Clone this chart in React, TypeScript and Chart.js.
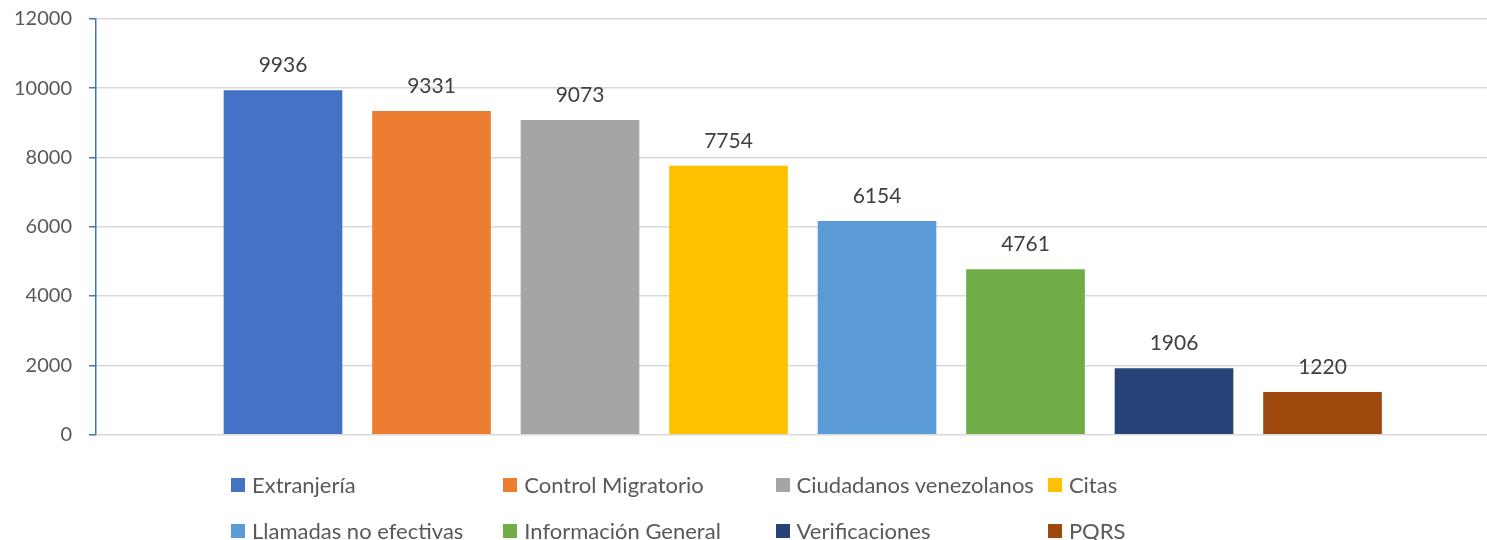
import React, { useEffect, useRef } from "react";
import { Chart, registerables } from "chart.js";

Chart.register(...registerables);

const categories = [
  "Extranjería",
  "Control Migratorio",
  "Ciudadanos venezolanos",
  "Citas",
  "Llamadas no efectivas",
  "Información General",
  "Verificaciones",
  "PQRS",
];
const values = [9936, 9331, 9073, 7754, 6154, 4761, 1906, 1220];
const colors = [
  "#4472C4",
  "#ED7D31",
  "#A5A5A5",
  "#FFC000",
  "#5B9BD5",
  "#70AD47",
  "#264478",
  "#9E480E",
];
const yTicks = [0, 2000, 4000, 6000, 8000, 10000, 12000];

const FONT = "Lato, 'Open Sans', sans-serif";

const labelPlugin = {
  id: "valueLabels",
  afterDatasetsDraw(chart: any) {
    const ctx = chart.ctx;
    const meta = chart.getDatasetMeta(0);
    ctx.save();
    ctx.font = `21px ${FONT}`;
    ctx.fillStyle = "#404040";
    ctx.textAlign = "center";
    ctx.textBaseline = "alphabetic";
    meta.data.forEach((bar: any, i: number) => {
      ctx.fillText(String(values[i]), bar.x, bar.y - 18.5);
    });
    ctx.restore();
  },
};

export default function App() {
  const ref = useRef<HTMLCanvasElement>(null);
  useEffect(() => {
    document.body.style.margin = "0";
    const chart = new Chart(ref.current as HTMLCanvasElement, {
      type: "bar",
      data: {
        datasets: [
          {
            data: values.map((v, i) => ({ x: i + 1, y: v })),
            backgroundColor: colors,
            borderWidth: 0,
            barThickness: 118,
          } as any,
        ],
      },
      options: {
        responsive: false,
        animation: false,
        devicePixelRatio: 1,
        layout: { padding: { top: 19, bottom: 105.5, left: 0, right: 0 } },
        plugins: { legend: { display: false }, tooltip: { enabled: false } },
        scales: {
          x: {
            type: "linear",
            display: false,
            offset: false,
            min: -0.2593,
            max: 9.1077,
          },
          y: {
            min: 0,
            max: 12000,
            afterFit: (s: any) => {
              s.width = 96;
              s.paddingTop = 0;
              s.paddingBottom = 0;
            },
            afterBuildTicks: (s: any) => {
              s.ticks = yTicks.map((v) => ({ value: v }));
            },
            border: { color: "#4472C4", width: 1.5 },
            grid: {
              color: "#D9D9D9",
              lineWidth: 1.5,
              tickColor: "#4472C4",
              tickWidth: 1.5,
              tickLength: 7,
            },
            ticks: {
              color: "#595959",
              font: { family: FONT, size: 20 },
              padding: 17,
              callback: (v: any) => String(v),
            },
          },
        },
      },
      plugins: [labelPlugin],
    });
    return () => chart.destroy();
  }, []);

  return (
    <div style={{ position: "relative", width: 1487, height: 540, background: "#fff" }}>
      <canvas ref={ref} width={1487} height={540} style={{ display: "block" }} />
      <div
        style={{
          position: "absolute",
          left: 231,
          top: 461.5,
          display: "grid",
          gridTemplateColumns: "repeat(4, 272.3px)",
          gridAutoRows: "46px",
          fontFamily: FONT,
          fontSize: 22,
          color: "#595959",
        }}
      >
        {categories.map((c, i) => (
          <div key={c} style={{ display: "flex", alignItems: "center", whiteSpace: "nowrap" }}>
            <span
              style={{
                display: "inline-block",
                width: 14,
                height: 14,
                background: colors[i],
                marginRight: 7,
                flex: "none",
              }}
            />
            <span>{c}</span>
          </div>
        ))}
      </div>
    </div>
  );
}
